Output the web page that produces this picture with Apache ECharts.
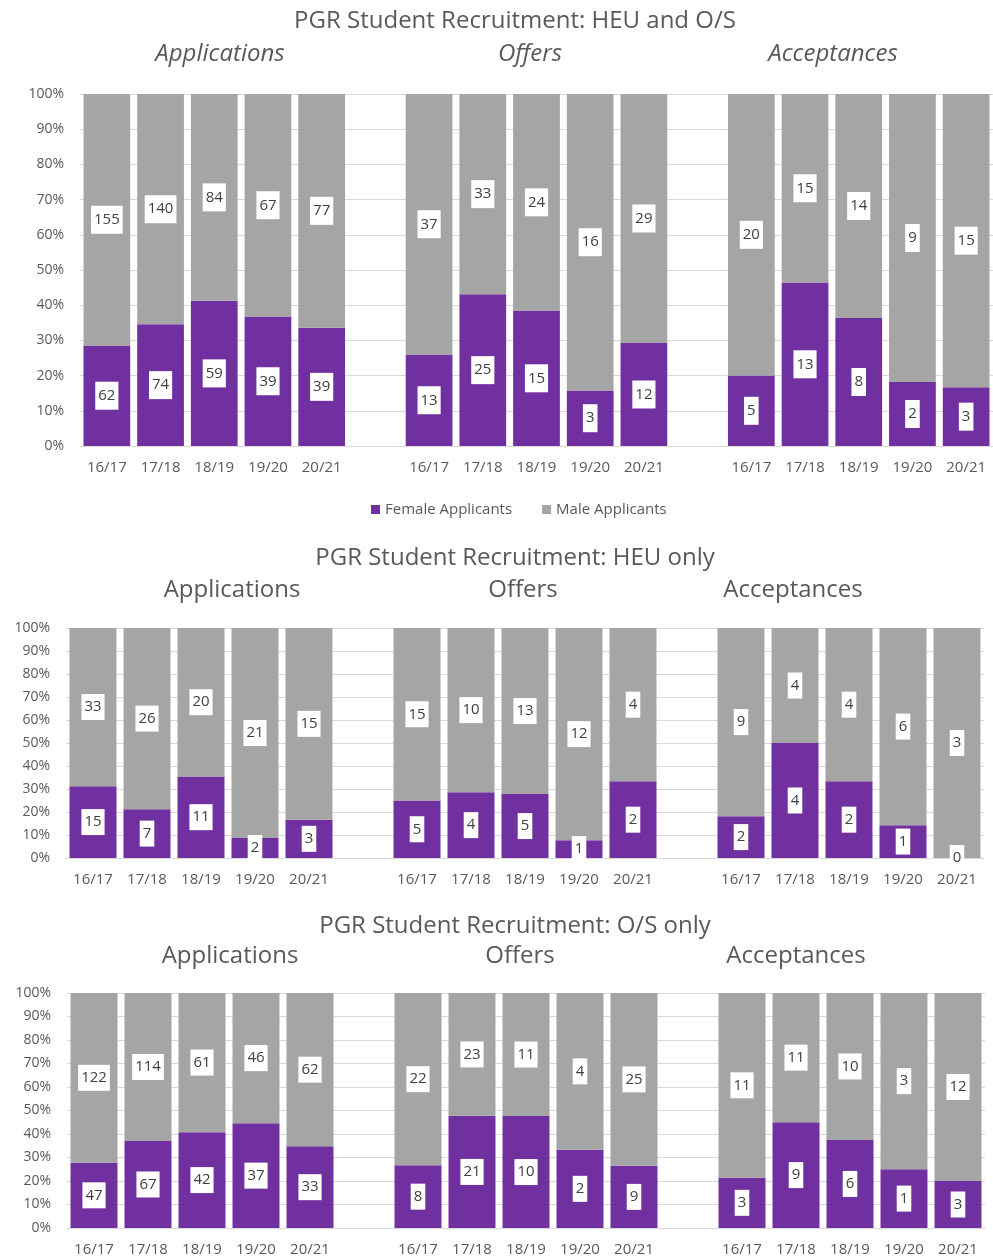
<!DOCTYPE html>
<html>
<head>
<meta charset="utf-8">
<title>PGR Student Recruitment</title>
<script src="https://cdn.jsdelivr.net/npm/echarts@6/dist/echarts.min.js"></script>
<style>
  html, body { margin: 0; padding: 0; background: #fff; }
  #chart { width: 993px; height: 1260px; }
</style>
</head>
<body>
<div id="chart"></div>
<script>
// categories
const years = ['16/17', '17/18', '18/19', '19/20', '20/21'];
const groups = ['Applications', 'Offers', 'Acceptances'];
const chartTitles = [
  'PGR Student Recruitment: HEU and O/S',
  'PGR Student Recruitment: HEU only',
  'PGR Student Recruitment: O/S only'
];

// counts: Applications (5), Offers (5), Acceptances (5)
const allFemale = [62, 74, 59, 39, 39, 13, 25, 15, 3, 12, 5, 13, 8, 2, 3];
const allMale   = [155, 140, 84, 67, 77, 37, 33, 24, 16, 29, 20, 15, 14, 9, 15];
const heuFemale = [15, 7, 11, 2, 3, 5, 4, 5, 1, 2, 2, 4, 2, 1, 0];
const heuMale   = [33, 26, 20, 21, 15, 15, 10, 13, 12, 4, 9, 4, 4, 6, 3];
const osFemale  = [47, 67, 42, 37, 33, 8, 21, 10, 2, 9, 3, 9, 6, 1, 3];
const osMale    = [122, 114, 61, 46, 62, 22, 23, 11, 4, 25, 11, 11, 10, 3, 12];

const PURPLE = '#7030A0';
const GREY = '#A5A5A5';
const TXT = '#595959';
const FONT = '"Open Sans", sans-serif';

// 5 years, blank, 5 years, blank, 5 years
const cats = [...years, '', ...years, '', ...years];

// turn counts into percent-of-bar items, with a gap after each group
function toItems(own, other) {
  const out = [];
  own.forEach((n, i) => {
    if (i === 5 || i === 10) out.push('-');
    out.push({ value: n / (n + other[i]) * 100, n: n });
  });
  return out;
}

const grids = [
  { left: 80, top: 94, width: 916, height: 352 },
  { left: 66, top: 628, width: 918, height: 230 },
  { left: 67, top: 993, width: 918, height: 235 }
];

const pairs = [[allFemale, allMale], [heuFemale, heuMale], [osFemale, osMale]];

function makeLabel(pad) {
  return {
    show: true,
    position: 'inside',
    formatter: p => p.data.n,
    backgroundColor: '#fff',
    color: '#404040',
    fontFamily: FONT,
    fontSize: 15,
    padding: pad
  };
}

let series = [];
pairs.forEach((pr, k) => {
  const lbl = makeLabel(k === 0 ? [7, 3, 6, 3] : [6, 3, 5, 3]);
  series.push({
    name: 'Female Applicants', type: 'bar', stack: 's' + k,
    xAxisIndex: k, yAxisIndex: k, barCategoryGap: '13%',
    itemStyle: { color: PURPLE }, label: lbl,
    data: toItems(pr[0], pr[1])
  });
  series.push({
    name: 'Male Applicants', type: 'bar', stack: 's' + k,
    xAxisIndex: k, yAxisIndex: k, barCategoryGap: '13%',
    itemStyle: { color: GREY }, label: lbl,
    data: toItems(pr[1], pr[0])
  });
});

// chart titles and group headings
const titleY = [21, 558, 926];
const subY = [54, 590, 956];
const subX = [[220, 530, 833], [232, 523, 793], [230, 520, 796]];
let graphics = [];
chartTitles.forEach((t, k) => {
  graphics.push({
    type: 'text', x: 515, y: titleY[k],
    style: { text: t, fill: TXT, font: '24px ' + FONT, textAlign: 'center', textVerticalAlign: 'middle' }
  });
  groups.forEach((g, j) => {
    graphics.push({
      type: 'text', x: subX[k][j], y: subY[k],
      style: {
        text: g, fill: TXT, textAlign: 'center', textVerticalAlign: 'middle',
        font: (k === 0 ? 'italic ' : '') + '24px ' + FONT
      }
    });
  });
});

const chart = echarts.init(document.getElementById('chart'));
chart.setOption({
  animation: false,
  grid: grids,
  legend: {
    top: 497, left: 366,
    icon: 'rect', itemWidth: 9, itemHeight: 9, itemGap: 30, itemStyle: { borderWidth: 0 },
    data: ['Female Applicants', 'Male Applicants'],
    textStyle: { color: TXT, fontFamily: FONT, fontSize: 15 }
  },
  xAxis: grids.map((g, k) => ({
    type: 'category', gridIndex: k, data: cats,
    axisTick: { show: false },
    axisLine: { lineStyle: { color: '#D9D9D9' } },
    axisLabel: { color: TXT, fontFamily: FONT, fontSize: 15, margin: 14, interval: 0 }
  })),
  yAxis: grids.map((g, k) => ({
    type: 'value', gridIndex: k, min: 0, max: 100, interval: 10,
    axisLabel: { formatter: '{value}%', color: TXT, fontFamily: FONT, fontSize: 14, margin: 16 },
    splitLine: { lineStyle: { color: '#D9D9D9' } }
  })),
  graphic: graphics,
  series: series
});
</script>
</body>
</html>
